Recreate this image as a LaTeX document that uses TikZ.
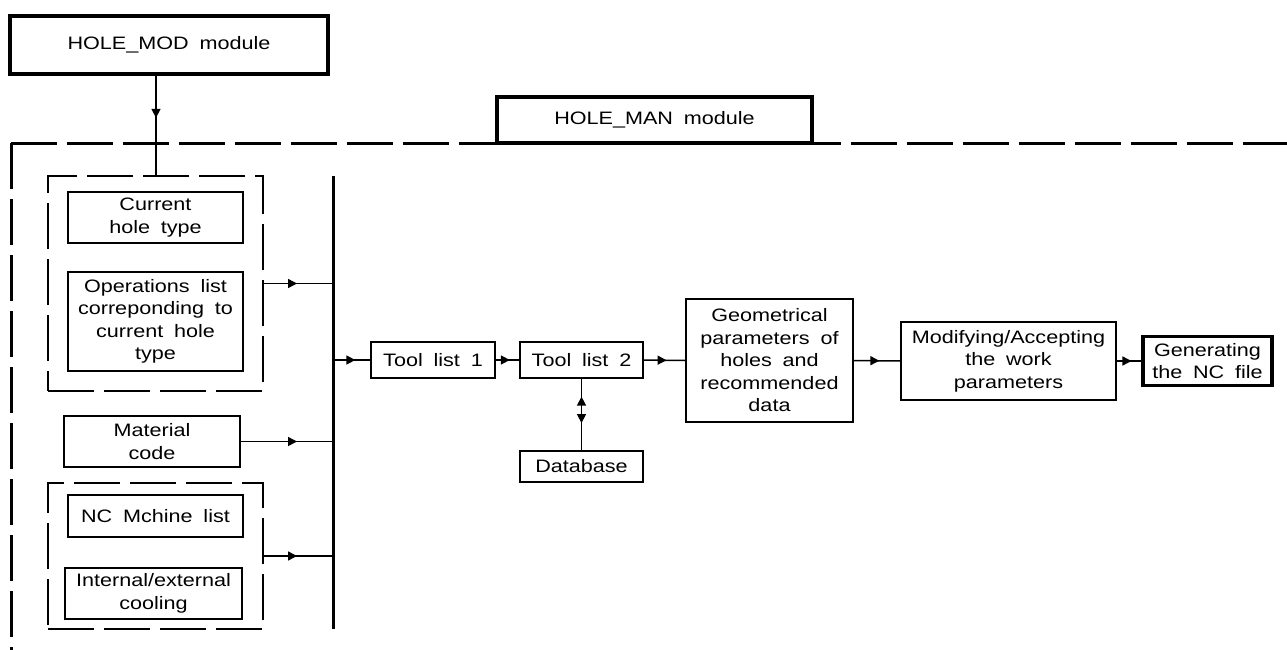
\documentclass[tikz,border=0pt]{standalone}
\usepackage{fontspec}
\setmainfont{Liberation Sans}[FakeStretch=1.2]
\usetikzlibrary{arrows.meta,decorations.markings}
\tikzset{
  box/.style={draw, line width=1.5pt, minimum width=#1, inner sep=0pt, align=center, font=\cadfont},
  thickbox/.style={box=#1, line width=3.5pt},
  groupbox/.style={draw, line width=1.5pt, dash pattern=on 46pt off 10pt, inner sep=0pt},
  conn/.style={line width=1.5pt},
  tri/.style={},
  midarrow/.style={conn, postaction={decorate}, decoration={markings, mark=at position #1 with {\arrow{Triangle[length=9pt,width=9pt]}}}},
  bigdash/.style={line width=3pt, dash pattern=on 46pt off 10pt},
}
\newcommand{\cadfont}{\fontsize{18}{22.5}\selectfont\spaceskip=0.6em plus 0.1em\relax}
\begin{document}
\begin{tikzpicture}[x=1pt,y=-1pt]
\useasboundingbox (0,0) rectangle (1287,650);
% outer dashed frame
\coordinate (corner) at (11,143);
\coordinate (frbot) at (11,650);
\coordinate (frright) at (1287,143);
\draw[bigdash] (corner) -- (frbot);
\draw[bigdash] (corner) -- (frright);
% modules
\node[thickbox=318pt, minimum height=58pt] (holemod) at (169,45) {HOLE\_MOD module};
\node[thickbox=315pt, minimum height=46pt, fill=white] (holeman) at (654.5,120) {HOLE\_MAN module};
% group boxes
\node[groupbox, minimum width=215pt, minimum height=215pt] (g1) at (155.5,283.5) {};
\node[groupbox, minimum width=215pt, minimum height=146pt] (g2) at (155.5,556) {};
% inner boxes
\node[box=175pt, minimum height=51pt] (cur) at (155.5,217.5) {Current\\hole type};
\node[box=175pt, minimum height=99pt] (ops) at (155.5,321.5) {Operations list\\correponding to\\current hole\\type};
\node[box=176pt, minimum height=51pt] (mat) at (152,441.5) {Material\\code};
\node[box=175pt, minimum height=42pt] (ncm) at (155.5,516) {NC Mchine list};
\node[box=177pt, minimum height=51pt] (cool) at (153.5,593.5) {Internal/external\\cooling};
% bus
\coordinate (bt) at (333,176);
\coordinate (bb) at (333,629);
\draw[line width=3pt] (bt) -- (bb);
% chain
\node[box=124pt, minimum height=36pt] (tl1) at (433,360) {Tool list 1};
\node[box=123pt, minimum height=36pt] (tl2) at (581.5,360) {Tool list 2};
\node[box=123pt, minimum height=31pt] (db) at (581.5,466.5) {Database};
\node[box=167pt, minimum height=123pt] (geo) at (769.5,360.5) {Geometrical\\parameters of\\holes and\\recommended\\data};
\node[box=215pt, minimum height=78pt] (mod) at (1008.5,361) {Modifying/Accepting\\the work\\parameters};
\node[thickbox=129pt, minimum height=49pt] (gen) at (1207.5,361) {Generating\\the NC file};
% connectors
\coordinate (hmout) at (156,74);
\coordinate (g1in) at (156,176);
\draw[midarrow=0.43] (hmout) -- (g1in);
\draw[midarrow=-36pt] (g1.east) -- (g1.east -| bt);
\draw[midarrow=-36pt] (mat.east) -- (mat.east -| bt);
\draw[midarrow=-36pt] (g2.east) -- (g2.east -| bt);
\draw[midarrow=0.6] (tl1.west -| bt) -- (tl1.west);
\draw[midarrow=0.6] (tl1.east) -- (tl2.west);
\draw[midarrow=0.55] (tl2.east) -- (geo.west);
\draw[midarrow=0.55] (geo.east) -- (mod.west);
\draw[midarrow=0.6] (mod.east) -- (gen.west);
\draw[conn, postaction={decorate}, decoration={markings,
   mark=at position 0.25 with {\arrowreversed{Triangle[length=9pt,width=9pt]}},
   mark=at position 0.62 with {\arrow{Triangle[length=9pt,width=9pt]}}}]
   (tl2.south) -- (db.north);
\end{tikzpicture}
\end{document}
